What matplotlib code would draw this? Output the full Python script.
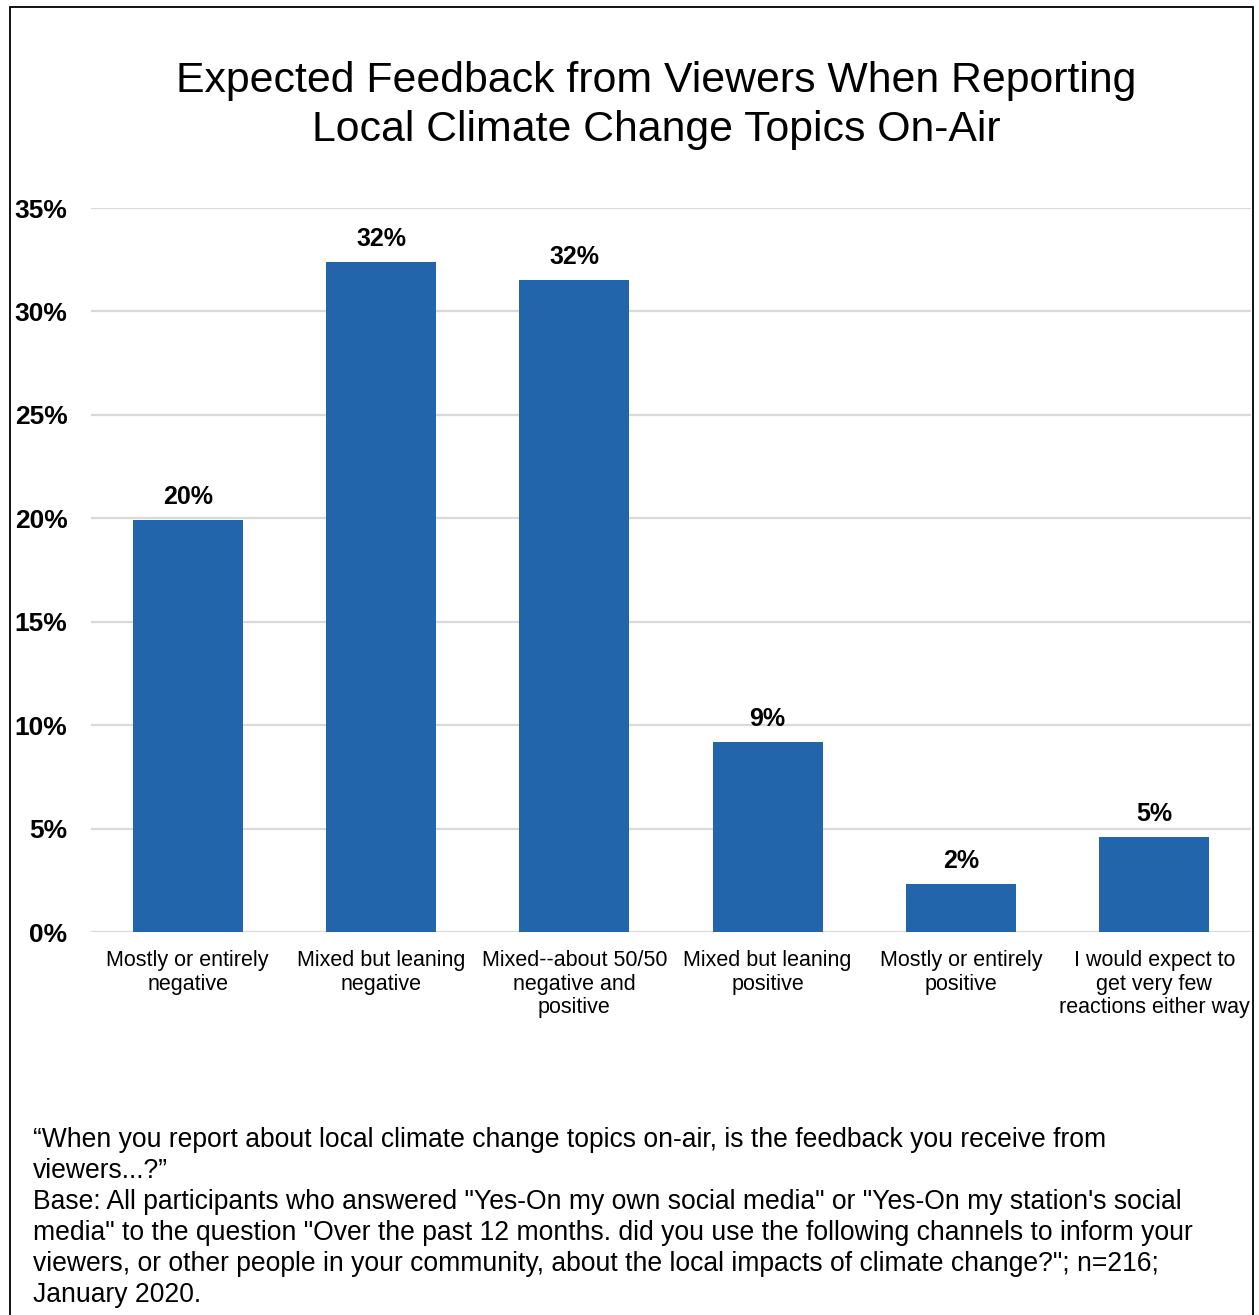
import matplotlib.pyplot as plt
from matplotlib.patches import Rectangle

plt.rcParams['font.family'] = ['Liberation Sans', 'DejaVu Sans']

categories = [
    'Mostly or entirely\nnegative',
    'Mixed but leaning\nnegative',
    'Mixed--about 50/50\nnegative and\npositive',
    'Mixed but leaning\npositive',
    'Mostly or entirely\npositive',
    'I would expect to\nget very few\nreactions either way',
]
shares = [19.9, 32.4, 31.5, 9.2, 2.3, 4.6]
yticks = [0, 5, 10, 15, 20, 25, 30, 35]

title = 'Expected Feedback from Viewers When Reporting\nLocal Climate Change Topics On-Air'
note = ('\u201cWhen you report about local climate change topics on-air, is the feedback you receive from\n'
        'viewers...?\u201d\n'
        'Base: All participants who answered "Yes-On my own social media" or "Yes-On my station\'s social\n'
        'media" to the question "Over the past 12 months. did you use the following channels to inform your\n'
        'viewers, or other people in your community, about the local impacts of climate change?"; n=216;\n'
        'January 2020.')

W, H = 1259, 1315
fig = plt.figure(figsize=(W / 100, H / 100), dpi=100)
ax = fig.add_axes([91 / W, 1 - 932 / H, 1160 / W, 724 / H])

x = range(len(categories))
ax.bar(x, shares, width=0.57, color='#2365ab', zorder=3)
for i, v in enumerate(shares):
    ax.annotate(f'{round(v)}%', (i, v), xytext=(0, 8), textcoords='offset points',
                ha='center', va='bottom', fontsize=18, fontweight='bold')

ax.set_xlim(-0.5, len(categories) - 0.5)
ax.set_ylim(0, 35)
ax.set_yticks(yticks)
ax.set_yticklabels([f'{t}%' for t in yticks], fontsize=19, fontweight='bold')
ax.set_xticks(list(x))
ax.set_xticklabels(categories, fontsize=15.5, linespacing=1.17, va='top')
ax.tick_params(axis='both', length=0)
ax.tick_params(axis='y', pad=17)
ax.tick_params(axis='x', pad=13)
ax.grid(axis='y', color='#d9d9d9', linewidth=1.6, zorder=0)
for s in ax.spines.values():
    s.set_visible(False)

fig.text(656 / W, 1 - 105.5 / H, title, ha='center', va='center', fontsize=30.8, linespacing=1.28)
fig.text(33 / W, 1 - 1127 / H, note, ha='left', va='top', fontsize=19.1, linespacing=1.245)

# frame around the whole chart
fig.add_artist(Rectangle((10.5 / W, -0.01), 1242 / W, 1 - 6.5 / H + 0.01,
                         transform=fig.transFigure, fill=False, edgecolor='black', linewidth=1.3))

fig.savefig('out.png', dpi=100)
